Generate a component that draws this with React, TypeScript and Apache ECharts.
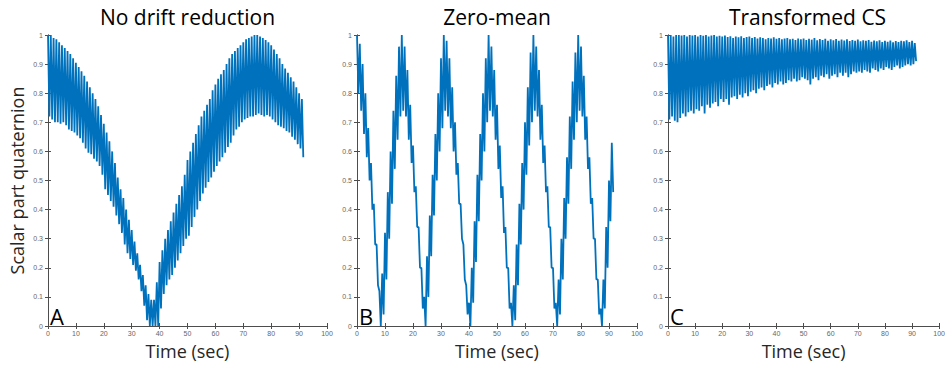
import React, { useEffect, useRef } from "react";
import * as echarts from "echarts";

// Panel titles and labels
const PANEL_TITLES = ["No drift reduction", "Zero-mean", "Transformed CS"];
const PANEL_LETTERS = ["A", "B", "C"];
const X_TICKS_MAX = 100;
const Y_AXIS_NAME = "Scalar part quaternion";
const X_AXIS_NAME = "Time (sec)";

// Sample times (s), one oscillation cycle per second
const SECONDS = Array.from({ length: 92 }, (_, i) => i);

// Panel A: upper / lower value of each fast cycle
const A_UPPER = [
  1.0, 1.0, 0.99, 0.985, 0.975, 0.965, 0.955, 0.945, 0.935, 0.92,
  0.905, 0.89, 0.875, 0.86, 0.84, 0.82, 0.8, 0.78, 0.755, 0.725,
  0.695, 0.665, 0.635, 0.6, 0.56, 0.51, 0.47, 0.44, 0.4, 0.365,
  0.33, 0.29, 0.25, 0.21, 0.175, 0.14, 0.11, 0.09, 0.09, 0.15,
  0.22, 0.26, 0.3, 0.33, 0.36, 0.39, 0.42, 0.45, 0.48, 0.52,
  0.57, 0.6, 0.63, 0.66, 0.69, 0.72, 0.74, 0.76, 0.78, 0.81,
  0.83, 0.85, 0.865, 0.88, 0.9, 0.92, 0.935, 0.945, 0.955, 0.965,
  0.975, 0.985, 0.99, 0.995, 1.0, 1.0, 0.995, 0.99, 0.983, 0.975,
  0.965, 0.95, 0.935, 0.92, 0.9, 0.885, 0.87, 0.855, 0.84, 0.82,
  0.8, 0.78,
];
const A_LOWER = [
  0.72, 0.71, 0.7, 0.7, 0.695, 0.7, 0.69, 0.675, 0.67, 0.665,
  0.655, 0.645, 0.63, 0.61, 0.595, 0.59, 0.575, 0.565, 0.55, 0.52,
  0.47, 0.45, 0.43, 0.41, 0.38, 0.35, 0.32, 0.28, 0.25, 0.23,
  0.21, 0.19, 0.16, 0.12, 0.07, 0.02, 0.0, 0.0, 0.0, 0.0,
  0.06, 0.11, 0.14, 0.16, 0.175, 0.2, 0.225, 0.25, 0.275, 0.3,
  0.31, 0.34, 0.375, 0.4, 0.43, 0.455, 0.475, 0.495, 0.51, 0.53,
  0.55, 0.565, 0.58, 0.595, 0.615, 0.63, 0.655, 0.675, 0.685, 0.7,
  0.71, 0.715, 0.72, 0.72, 0.725, 0.73, 0.725, 0.72, 0.725, 0.72,
  0.71, 0.7, 0.69, 0.685, 0.68, 0.67, 0.665, 0.65, 0.64, 0.625,
  0.61, 0.58,
];

// Panel B
const B_UPPER = [
  1.0, 0.97, 0.9, 0.8, 0.68, 0.56, 0.42, 0.28, 0.12, 0.18,
  0.32, 0.46, 0.6, 0.74, 0.86, 0.96, 1.0, 0.96, 0.88, 0.76,
  0.62, 0.48, 0.34, 0.2, 0.1, 0.24, 0.38, 0.52, 0.66, 0.8,
  0.92, 1.0, 0.98, 0.92, 0.82, 0.7, 0.56, 0.42, 0.28, 0.14,
  0.08, 0.2, 0.36, 0.52, 0.66, 0.8, 0.92, 1.0, 0.96, 0.88,
  0.76, 0.62, 0.48, 0.34, 0.2, 0.08, 0.14, 0.28, 0.42, 0.56,
  0.7, 0.82, 0.94, 1.0, 0.96, 0.88, 0.76, 0.62, 0.48, 0.34,
  0.2, 0.08, 0.16, 0.3, 0.44, 0.58, 0.72, 0.84, 0.94, 1.0,
  0.96, 0.86, 0.72, 0.58, 0.44, 0.3, 0.16, 0.06, 0.16, 0.34,
  0.5, 0.63,
];
const B_LOWER = [
  0.8, 0.74, 0.66, 0.58, 0.5, 0.4, 0.28, 0.14, 0.0, 0.04,
  0.16, 0.3, 0.42, 0.54, 0.64, 0.72, 0.74, 0.72, 0.64, 0.56,
  0.46, 0.34, 0.2, 0.06, 0.0, 0.1, 0.24, 0.38, 0.5, 0.6,
  0.68, 0.74, 0.72, 0.68, 0.6, 0.52, 0.42, 0.3, 0.16, 0.04,
  0.0, 0.08, 0.22, 0.36, 0.5, 0.6, 0.7, 0.74, 0.72, 0.64,
  0.54, 0.44, 0.32, 0.2, 0.06, 0.0, 0.02, 0.14, 0.28, 0.4,
  0.52, 0.62, 0.7, 0.74, 0.72, 0.64, 0.56, 0.46, 0.34, 0.2,
  0.06, 0.0, 0.04, 0.16, 0.3, 0.42, 0.54, 0.64, 0.7, 0.74,
  0.72, 0.64, 0.54, 0.42, 0.3, 0.16, 0.04, 0.0, 0.06, 0.2,
  0.36, 0.46,
];

// Panel C
const C_UPPER = [
  1.0, 1.0, 0.995, 1.0, 1.0, 0.998, 1.0, 0.995, 1.0, 0.998,
  1.0, 0.995, 1.0, 0.997, 1.0, 0.995, 0.998, 1.0, 0.995, 0.997,
  0.995, 0.998, 0.993, 0.996, 0.99, 0.995, 0.992, 0.996, 0.99, 0.993,
  0.995, 0.99, 0.993, 0.988, 0.992, 0.99, 0.985, 0.99, 0.988, 0.992,
  0.987, 0.99, 0.985, 0.988, 0.99, 0.985, 0.987, 0.983, 0.988, 0.985,
  0.988, 0.983, 0.987, 0.984, 0.99, 0.982, 0.986, 0.983, 0.987, 0.98,
  0.985, 0.982, 0.986, 0.98, 0.984, 0.981, 0.985, 0.979, 0.983, 0.98,
  0.984, 0.978, 0.982, 0.98, 0.983, 0.977, 0.981, 0.978, 0.982, 0.976,
  0.98, 0.977, 0.981, 0.975, 0.979, 0.976, 0.98, 0.978, 0.982, 0.976,
  0.98, 0.972,
];
const C_LOWER = [
  0.71, 0.72, 0.705, 0.7, 0.715, 0.73, 0.72, 0.735, 0.74, 0.73,
  0.745, 0.74, 0.755, 0.73, 0.76, 0.75, 0.765, 0.77, 0.755, 0.78,
  0.77, 0.78, 0.76, 0.785, 0.79, 0.78, 0.795, 0.785, 0.8, 0.79,
  0.805, 0.81, 0.8, 0.815, 0.82, 0.81, 0.825, 0.83, 0.82, 0.835,
  0.83, 0.84, 0.83, 0.835, 0.845, 0.84, 0.85, 0.84, 0.845, 0.855,
  0.85, 0.845, 0.83, 0.85, 0.855, 0.845, 0.86, 0.855, 0.865, 0.85,
  0.86, 0.865, 0.855, 0.87, 0.86, 0.87, 0.855, 0.865, 0.875, 0.87,
  0.875, 0.87, 0.88, 0.875, 0.87, 0.885, 0.88, 0.875, 0.885, 0.88,
  0.89, 0.885, 0.88, 0.89, 0.895, 0.885, 0.89, 0.895, 0.9, 0.895,
  0.9, 0.91,
];

const UPPERS = [A_UPPER, B_UPPER, C_UPPER];
const LOWERS = [A_LOWER, B_LOWER, C_LOWER];

function zigzag(upper: number[], lower: number[]) {
  const out: number[][] = [];
  SECONDS.forEach((t, i) => {
    out.push([t, upper[i]]);
    out.push([t + 0.5, lower[i]]);
  });
  return out;
}

const GRIDS = [
  { left: 48, width: 279 },
  { left: 357, width: 280 },
  { left: 668, width: 279 },
];
const TOP = 35;
const HEIGHT = 291;
const FONT = "'Open Sans', 'Noto Sans', sans-serif";
const LINE_COLOR = "#0072BD";
const AXIS_COLOR = "#4d4d4d";

export default function App() {
  const ref = useRef<HTMLDivElement>(null);
  useEffect(() => {
    if (!ref.current) return;
    const chart = echarts.init(ref.current, undefined, { renderer: "svg" });
    const grid: any[] = [];
    const xAxis: any[] = [];
    const yAxis: any[] = [];
    const series: any[] = [];
    const graphic: any[] = [];
    GRIDS.forEach((g, i) => {
      grid.push({ left: g.left, top: TOP, width: g.width, height: HEIGHT, containLabel: false });
      const axisLine = { show: true, lineStyle: { color: AXIS_COLOR, width: 1 } };
      const axisTick = { show: true, inside: true, length: 3, lineStyle: { color: AXIS_COLOR } };
      xAxis.push({
        type: "value", gridIndex: i, min: 0, max: X_TICKS_MAX, interval: 10, position: "bottom",
        axisLine, axisTick, splitLine: { show: false },
        axisLabel: { fontSize: 7, color: "#666", margin: 4, fontFamily: "Arial, 'Liberation Sans', sans-serif" },
        name: X_AXIS_NAME, nameLocation: "middle", nameGap: 15,
        nameTextStyle: { fontSize: 18, fontWeight: "normal", color: "#262626", fontFamily: FONT },
      });
      xAxis.push({
        type: "value", gridIndex: i, min: 0, max: X_TICKS_MAX, interval: 10, position: "top",
        axisLine, axisTick, splitLine: { show: false }, axisLabel: { show: false },
      });
      yAxis.push({
        type: "value", gridIndex: i, min: 0, max: 1, interval: 0.1, position: "left",
        axisLine, axisTick, splitLine: { show: false },
        axisLabel: { fontSize: 7, color: "#666", margin: 5, fontFamily: "Arial, 'Liberation Sans', sans-serif" },
        name: i === 0 ? Y_AXIS_NAME : "", nameLocation: "middle", nameGap: 22,
        nameTextStyle: { fontSize: 18, fontWeight: "normal", color: "#262626", fontFamily: FONT },
      });
      yAxis.push({
        type: "value", gridIndex: i, min: 0, max: 1, interval: 0.1, position: "right",
        axisLine, axisTick, splitLine: { show: false }, axisLabel: { show: false },
      });
      series.push({
        type: "line", xAxisIndex: i * 2, yAxisIndex: i * 2, showSymbol: false, symbol: "none",
        data: zigzag(UPPERS[i], LOWERS[i]),
        lineStyle: { color: LINE_COLOR, width: 1.8 }, clip: true,
      });
      graphic.push({
        type: "text", x: g.left + g.width / 2, y: 17,
        style: {
          text: PANEL_TITLES[i], fontSize: 21, fontWeight: "normal", fontFamily: FONT, fill: "#000",
          textAlign: "center", textVerticalAlign: "middle", align: "center", verticalAlign: "middle",
        },
      });
      graphic.push({
        type: "text", x: g.left + 2, y: 316,
        style: {
          text: PANEL_LETTERS[i], fontSize: 22, fontWeight: "normal", fontFamily: FONT, fill: "#000",
          textAlign: "left", textVerticalAlign: "middle", align: "left", verticalAlign: "middle",
        },
      });
    });
    chart.setOption({
      animation: false,
      backgroundColor: "#fff",
      grid, xAxis, yAxis, series, graphic,
    });
    return () => chart.dispose();
  }, []);
  return (
    <div
      ref={ref}
      style={{ position: "fixed", left: 0, top: 0, width: 948, height: 368, background: "#fff" }}
    />
  );
}
